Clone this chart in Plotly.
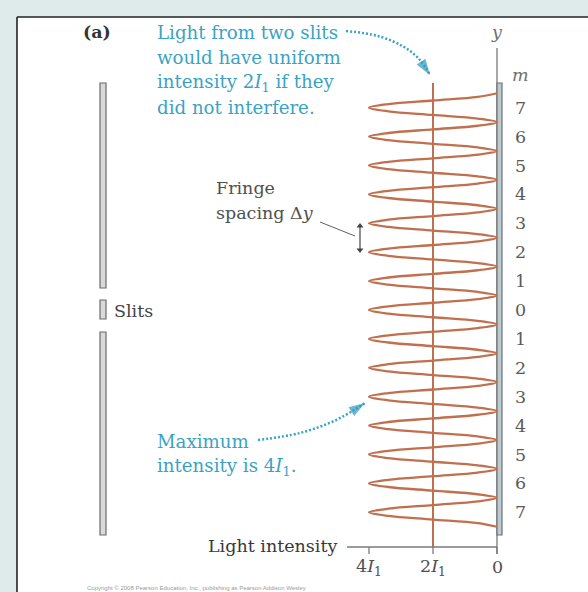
import plotly.graph_objects as go

# ---------------------------------------------------------------- data
# Bright-fringe orders printed beside the screen (top to bottom) and their
# positions along the screen in units of the fringe spacing.
fringe_labels = [7, 6, 5, 4, 3, 2, 1, 0, 1, 2, 3, 4, 5, 6, 7]
fringe_positions = [7, 6, 5, 4, 3, 2, 1, 0, -1, -2, -3, -4, -5, -6, -7]

# Intensities in units of I1 across one fringe, sampled every 1/8 fringe
# from a dark fringe (offset -1/2) through the bright centre (offset 0)
fringe_offsets = [-0.5, -0.375, -0.25, -0.125, 0.0, 0.125, 0.25, 0.375]
fringe_profile = [0.0, 0.6, 2.0, 3.4, 4.0, 3.4, 2.0, 0.6]

max_intensity = 4        # centre of each bright fringe
uniform_intensity = 2    # two slits without interference
dark_intensity = 0       # midway between bright fringes

tick_values = [4, 2, 0]
tick_labels = ["4<i>I</i><sub>1</sub>", "2<i>I</i><sub>1</sub>", "0"]

# ---------------------------------------------------------------- frame
W, H = 588, 592
X0_PX, X_UNIT = 497, 32.0     # pixel column of I = 0, pixels per I1
Y0_PX, Y_UNIT = 310, 28.9     # pixel row of m = 0, pixels per fringe


def ix(p):
    """pixel column -> intensity coordinate"""
    return (X0_PX - p) / X_UNIT


def my(p):
    """pixel row -> fringe coordinate"""
    return (Y0_PX - p) / Y_UNIT


SERIF = "DejaVu Serif"
BLUE = "#3aa3c4"
ARROW_BLUE = "#2f97c0"
CURVE = "#c0704e"
GREY_TXT = "#505050"

fig = go.Figure()

# ---------------------------------------------------------------- pattern
ys, xs = [], []
for m in sorted(fringe_positions):
    for off, val in zip(fringe_offsets, fringe_profile):
        xs.append(val)
        ys.append(m + off)
xs.append(dark_intensity)
ys.append(max(fringe_positions) + 0.5)

fig.add_trace(go.Scatter(
    x=xs, y=ys, mode="lines",
    line=dict(color=CURVE, width=2.3, shape="spline", smoothing=1.0),
    hoverinfo="skip"))

# uniform level 2I1
fig.add_trace(go.Scatter(
    x=[uniform_intensity, uniform_intensity], y=[my(83), my(547)],
    mode="lines", line=dict(color=CURVE, width=2), hoverinfo="skip"))


# ---------------------------------------------------------------- dotted pointers
def pointer(px_list, py_list):
    fig.add_trace(go.Scatter(
        x=[ix(p) for p in px_list], y=[my(p) for p in py_list],
        mode="lines", line=dict(color=BLUE, width=2.5, dash="2px,2px", shape="spline"),
        hoverinfo="skip"))
    # arrowhead on the last point, oriented along the final segment
    fig.add_trace(go.Scatter(
        x=[ix(px_list[-2]), ix(px_list[-1])], y=[my(py_list[-2]), my(py_list[-1])],
        mode="markers",
        marker=dict(symbol="arrow", size=[0, 17], angleref="previous",
                    color=ARROW_BLUE, line=dict(width=0)),
        hoverinfo="skip"))


pointer([346, 378, 404, 420, 430], [31, 36, 47, 60, 75])
pointer([258, 300, 334, 354, 365], [440, 433, 421, 410, 403])

# fringe-spacing double arrow
fig.add_trace(go.Scatter(
    x=[ix(360), ix(360)], y=[my(226), my(250)], mode="lines+markers",
    line=dict(color="#444", width=1.2),
    marker=dict(symbol=["triangle-up", "triangle-down"], size=6, color="#444"),
    hoverinfo="skip"))

shapes = []
# white panel with its top and left rule
shapes.append(dict(type="rect", xref="x", yref="y", layer="below",
                   x0=ix(17), x1=ix(W + 5), y0=my(17), y1=my(H + 5),
                   fillcolor="white", line=dict(width=0)))
shapes.append(dict(type="line", xref="x", yref="y",
                   x0=ix(17), x1=ix(W + 5), y0=my(17), y1=my(17),
                   line=dict(color="#222", width=1.6)))
shapes.append(dict(type="line", xref="x", yref="y",
                   x0=ix(17), x1=ix(17), y0=my(17), y1=my(H + 5),
                   line=dict(color="#222", width=1.6)))

# slit barrier
for top, bottom in ((83, 288), (300, 319), (332, 535)):
    shapes.append(dict(type="rect", xref="x", yref="y",
                       x0=ix(100), x1=ix(106), y0=my(top), y1=my(bottom),
                       fillcolor="#d9d9d9", line=dict(color="#6a6a6a", width=1.2)))

# y axis along the screen and the intensity axis
AXIS_Y = my(547)
shapes.append(dict(type="line", xref="x", yref="y", layer="below",
                   x0=dark_intensity, x1=dark_intensity, y0=my(48), y1=my(554),
                   line=dict(color="#8a8a8a", width=1.5)))
# screen
shapes.append(dict(type="rect", xref="x", yref="y", layer="below",
                   x0=ix(497), x1=ix(502), y0=my(83), y1=my(535),
                   fillcolor="#bccbd0", line=dict(color="#707070", width=1.2)))
shapes.append(dict(type="line", xref="x", yref="y",
                   x0=ix(347), x1=dark_intensity, y0=AXIS_Y, y1=AXIS_Y,
                   line=dict(color="#7a7a7a", width=1.3)))
for v in tick_values:
    shapes.append(dict(type="line", xref="x", yref="y",
                       x0=v, x1=v, y0=AXIS_Y, y1=my(554),
                       line=dict(color="#7a7a7a", width=1.3)))

# fringe-spacing leader
shapes.append(dict(type="line", xref="x", yref="y",
                   x0=ix(320), x1=ix(355), y0=my(222), y1=my(236),
                   line=dict(color="#606060", width=1)))

annotations = []


def text(px, py, s, size=17.5, color=GREY_TXT, xanchor="left", family=SERIF,
         style="normal", weight="normal"):
    annotations.append(dict(x=ix(px), y=my(py), xref="x", yref="y", text=s,
                            showarrow=False, xanchor=xanchor, yanchor="middle",
                            font=dict(family=family, size=size, color=color,
                                      style=style, weight=weight)))


text(97, 32, "(a)", color="#333", xanchor="center", weight="bold")

blue_lines = ["Light from two slits", "would have uniform",
              "intensity 2<i>I</i><sub>1</sub> if they", "did not interfere."]
for i, line in enumerate(blue_lines):
    text(155, 32 + 25.3 * i, line, size=18.2, color=BLUE)

text(214, 188, "Fringe")
text(214, 213, "spacing \u0394<i>y</i>")
text(112, 311, "Slits", color="#444")
text(155, 441, "Maximum", size=18.2, color=BLUE)
text(155, 467, "intensity is 4<i>I</i><sub>1</sub>.", size=18.2, color=BLUE)
text(339, 546, "Light intensity", color="#383838", xanchor="right")

text(497, 32, "y", color="#707070", xanchor="center", style="italic")
text(520, 75, "m", color="#707070", xanchor="center", style="italic")
for lab, pos in zip(fringe_labels, fringe_positions):
    annotations.append(dict(x=ix(520), y=pos, xref="x", yref="y", text=str(lab),
                            showarrow=False, xanchor="center", yanchor="middle",
                            font=dict(family=SERIF, size=17.5, color="#5a5a5a")))

for v, lab in zip(tick_values, tick_labels):
    annotations.append(dict(x=v, y=my(567), xref="x", yref="y", text=lab,
                            showarrow=False, xanchor="center", yanchor="middle",
                            font=dict(family=SERIF, size=17.5, color="#505050")))

text(85, 588, "Copyright \u00a9 2008 Pearson Education, Inc., publishing as Pearson Addison Wesley",
     size=6, color="#9a9a9a", family="Liberation Sans")

fig.update_layout(
    width=W, height=H,
    margin=dict(l=0, r=0, t=0, b=0),
    paper_bgcolor="#dfeaeb",
    plot_bgcolor="rgba(0,0,0,0)",
    showlegend=False,
    xaxis=dict(visible=False, range=[ix(0), ix(W)]),
    yaxis=dict(visible=False, range=[my(H), my(0)]),
    shapes=shapes,
    annotations=annotations,
)

fig.write_html("out.html")
